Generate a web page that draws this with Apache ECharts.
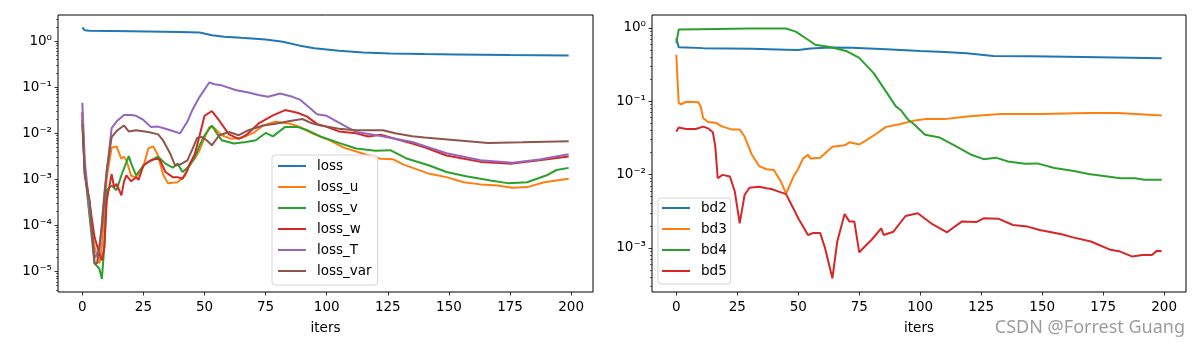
<!DOCTYPE html>
<html>
<head>
<meta charset="utf-8">
<script src="https://cdn.jsdelivr.net/npm/echarts@6.0.0/dist/echarts.min.js"></script>
<style>
html, body { margin: 0; padding: 0; background: #fff; }
#main { width: 1200px; height: 350px; }
</style>
</head>
<body>
<div id="main"></div>
<script>
// ---- data: [iter, value] ----
var iterTicks = [0, 25, 50, 75, 100, 125, 150, 175, 200];
var lossTicks = [1e-5, 1e-4, 1e-3, 1e-2, 1e-1, 1];
var bdTicks = [1e-3, 1e-2, 1e-1, 1];

var lossNames = ['loss', 'loss_u', 'loss_v', 'loss_w', 'loss_T', 'loss_var'];
var bdNames = ['bd2', 'bd3', 'bd4', 'bd5'];

var loss = [[0,2.0],[1,1.72],[3,1.68],[20,1.65],[40,1.58],[48,1.55],[53,1.35],[58,1.25],[65,1.18],[75,1.09],[82,0.97],[89,0.8],[95,0.7],[105,0.62],[115,0.57],[126,0.54],[140,0.525],[153,0.515],[175,0.5],[199,0.49]];
var lossU = [[0,2.7e-2],[1,1.6e-3],[3,1.8e-4],[5,3.4e-5],[7,1.5e-5],[8,3.4e-5],[10,1.1e-3],[12,4.9e-3],[14,5.2e-3],[16,2.8e-3],[17,3.1e-3],[18,2.6e-3],[20,1.2e-3],[22,1.1e-3],[25,1.9e-3],[27,4.7e-3],[29,5.2e-3],[31,3.3e-3],[33,1.3e-3],[35,8.3e-4],[39,8.7e-4],[42,1.2e-3],[44,2.2e-3],[46,2.8e-3],[48,4.3e-3],[50,8e-3],[52,1.38e-2],[54,1.3e-2],[57,9.1e-3],[61,7.6e-3],[65,7.9e-3],[70,1.02e-2],[74,1.48e-2],[79,1.78e-2],[85,1.62e-2],[89,1.38e-2],[94,1.0e-2],[101,7.1e-3],[107,4.9e-3],[115,3.6e-3],[122,2.8e-3],[127,2.75e-3],[131,2.14e-3],[142,1.32e-3],[149,1.12e-3],[156,8.7e-4],[163,7.8e-4],[170,7.4e-4],[176,6.6e-4],[182,6.8e-4],[189,8.7e-4],[199,1.03e-3]];
var lossV = [[0,2.0e-2],[1,1.6e-3],[3,1.5e-4],[5,1.5e-5],[7,1.15e-5],[8,6.9e-6],[9,3.4e-5],[10,5.8e-4],[12,7.4e-4],[14,5.8e-4],[16,1.23e-3],[19,3.2e-3],[20,2.2e-3],[22,1.23e-3],[25,2.0e-3],[28,2.6e-3],[31,3.1e-3],[34,2.2e-3],[37,1.8e-3],[39,2.2e-3],[41,1.45e-3],[44,2.0e-3],[46,3.0e-3],[48,5.5e-3],[50,9e-3],[53,1.48e-2],[55,1.0e-2],[57,7.1e-3],[62,6.0e-3],[67,6.5e-3],[71,7.1e-3],[75,1.02e-2],[78,8.6e-3],[83,1.38e-2],[88,1.38e-2],[92,1.17e-2],[98,8.3e-3],[105,6.2e-3],[112,4.7e-3],[120,4.2e-3],[126,4.3e-3],[133,2.8e-3],[142,2.0e-3],[149,1.45e-3],[157,1.17e-3],[167,9.5e-4],[174,8.3e-4],[182,8.7e-4],[190,1.23e-3],[194,1.6e-3],[199,1.78e-3]];
var lossW = [[0,2.9e-2],[1,1.3e-3],[3,3.0e-4],[5,5.6e-5],[7,2.4e-5],[8,1.75e-5],[9,3.4e-5],[10,3.5e-4],[12,1.3e-3],[13,6.8e-4],[14,8.0e-4],[16,4.5e-4],[17,8.7e-4],[18,1.23e-3],[20,9.1e-4],[22,1.12e-3],[23,9.8e-4],[25,2.0e-3],[27,2.4e-3],[29,2.7e-3],[31,2.8e-3],[32,2.5e-3],[34,1.45e-3],[37,1.12e-3],[39,1.12e-3],[41,1.03e-3],[43,1.6e-3],[44,2.2e-3],[46,3.5e-3],[48,9e-3],[50,2.4e-2],[53,3.05e-2],[56,1.9e-2],[60,9.5e-3],[64,7.6e-3],[67,9.1e-3],[72,1.62e-2],[78,2.45e-2],[83,3.2e-2],[88,2.8e-2],[92,2.3e-2],[96,1.6e-2],[100,1.38e-2],[105,1.1e-2],[112,1.0e-2],[117,8.5e-3],[122,9.3e-3],[135,6.0e-3],[140,5.0e-3],[149,3.3e-3],[163,2.4e-3],[176,2.2e-3],[187,2.6e-3],[199,3.15e-3]];
var lossT = [[0,4.6e-2],[1,2.6e-3],[3,2.1e-4],[5,2.0e-5],[7,2.8e-5],[9,4.9e-4],[12,1.3e-2],[14,1.8e-2],[17,2.5e-2],[20,2.5e-2],[22,2.4e-2],[25,1.95e-2],[28,1.38e-2],[31,1.4e-2],[33,1.3e-2],[37,1.12e-2],[40,1.0e-2],[43,1.8e-2],[45,3.2e-2],[48,6.2e-2],[52,0.128],[54,0.116],[57,0.11],[63,8.6e-2],[68,7.7e-2],[72,6.8e-2],[76,6.2e-2],[81,7.3e-2],[86,6.2e-2],[89,5.4e-2],[93,3.6e-2],[96,2.6e-2],[100,2.4e-2],[107,1.48e-2],[112,1.07e-2],[121,9.0e-3],[135,6.5e-3],[149,3.7e-3],[163,2.6e-3],[176,2.3e-3],[187,2.7e-3],[199,3.5e-3]];
var lossVar = [[0,1.55e-2],[1,1.23e-3],[3,3.5e-4],[5,1.5e-5],[6,1.5e-5],[8,9.1e-5],[10,1.6e-3],[12,8.3e-3],[14,1.12e-2],[17,1.48e-2],[19,1.1e-2],[22,1.17e-2],[27,1.07e-2],[31,9.5e-3],[33,7.1e-3],[36,3.6e-3],[38,2.0e-3],[40,2.1e-3],[43,2.6e-3],[45,4.5e-3],[47,8.0e-3],[49,8.3e-3],[51,7e-3],[53,5.5e-3],[56,9.1e-3],[60,1.07e-2],[64,9.1e-3],[68,1.17e-2],[74,1.48e-2],[79,1.62e-2],[85,1.85e-2],[90,2.05e-2],[94,1.65e-2],[97,1.5e-2],[101,1.38e-2],[105,1.26e-2],[112,1.17e-2],[123,1.17e-2],[128,1.0e-2],[135,8.6e-3],[140,8.1e-3],[153,7.1e-3],[166,6.2e-3],[180,6.4e-3],[199,6.7e-3]];

var bd2 = [[0,0.72],[1,0.545],[11,0.53],[31,0.52],[45,0.505],[50,0.50],[55,0.525],[63,0.54],[72,0.535],[86,0.51],[92,0.50],[100,0.485],[110,0.47],[119,0.45],[130,0.415],[145,0.41],[160,0.405],[180,0.395],[199,0.386]];
var bd3 = [[0,0.43],[1,0.094],[2,0.091],[4,0.098],[9,0.097],[10,0.085],[11,0.059],[13,0.052],[16,0.051],[18,0.047],[19,0.045],[23,0.041],[26,0.041],[28,0.033],[31,0.0186],[34,0.013],[37,0.0118],[40,0.0115],[43,0.0079],[45,0.0055],[46,0.0065],[48,0.0093],[50,0.012],[52,0.0166],[54,0.0186],[55,0.0165],[59,0.017],[61,0.0195],[64,0.024],[69,0.025],[71,0.0275],[75,0.0257],[78,0.0295],[82,0.036],[86,0.0447],[92,0.049],[97,0.054],[102,0.057],[110,0.057],[119,0.062],[133,0.067],[150,0.067],[169,0.069],[181,0.069],[199,0.064]];
var bd4 = [[0,0.62],[1,0.95],[10,0.96],[30,0.98],[45,0.98],[49,0.89],[54,0.69],[57,0.59],[63,0.55],[70,0.48],[75,0.39],[81,0.24],[86,0.135],[90,0.085],[92,0.076],[95,0.056],[97,0.05],[102,0.035],[108,0.032],[114,0.025],[121,0.0186],[126,0.0162],[131,0.017],[136,0.0151],[143,0.014],[148,0.0142],[155,0.0123],[163,0.0112],[169,0.0102],[176,0.0095],[182,0.0089],[188,0.0089],[192,0.0085],[199,0.0085]];
var bd5 = [[0,0.0385],[1,0.0437],[4,0.0418],[8,0.0418],[11,0.045],[13,0.0427],[15,0.0377],[16,0.024],[17,0.0089],[19,0.0099],[22,0.0094],[24,0.00585],[26,0.00216],[28,0.00526],[30,0.0066],[34,0.0068],[37,0.0065],[39,0.00635],[42,0.00585],[45,0.0054],[48,0.00345],[50,0.00253],[54,0.0015],[56,0.00159],[59,0.00159],[61,0.00099],[64,0.000385],[66,0.00122],[69,0.0029],[71,0.00228],[73,0.00228],[75,0.00087],[78,0.0011],[80,0.00128],[84,0.00185],[85,0.0015],[89,0.00166],[94,0.00272],[99,0.00297],[105,0.0021],[111,0.00163],[117,0.00228],[123,0.00225],[126,0.00253],[132,0.0025],[138,0.00205],[144,0.00195],[149,0.00175],[158,0.00153],[163,0.00138],[170,0.00122],[178,0.00094],[182,0.00089],[187,0.00076],[191,0.0008],[195,0.0008],[197,0.00091],[199,0.0009]];

var colors = ['#1f77b4', '#ff7f0e', '#2ca02c', '#d62728', '#9467bd', '#8c564b'];
var font = 'DejaVu Sans';
var fs = 13.5;

var sup = { '-': '\u207B', '0': '\u2070', '1': '\u00B9', '2': '\u00B2', '3': '\u00B3', '4': '\u2074', '5': '\u2075' };
function powLabel(v) {
    var e = Math.round(Math.log10(v));
    return '10' + String(e).split('').map(function (c) { return sup[c]; }).join('');
}
// minor ticks at 2..9 x 10^k, like matplotlib
function minorTicks(lo, hi) {
    var out = [];
    for (var e = Math.floor(Math.log10(lo)); e <= Math.ceil(Math.log10(hi)); e++) {
        for (var m = 2; m <= 9; m++) {
            var v = m * Math.pow(10, e);
            if (v >= lo && v <= hi) out.push(v);
        }
    }
    return out;
}

function xAxis(gi) {
    return {
        type: 'value', gridIndex: gi, min: -9.95, max: 208.95,
        name: 'iters', nameLocation: 'middle', nameGap: 29,
        nameTextStyle: { fontFamily: font, fontSize: fs, color: '#000' },
        axisLine: { show: false, onZero: false },
        splitLine: { show: false },
        axisTick: { customValues: iterTicks, length: 3.5, lineStyle: { color: '#000', width: 0.8 } },
        axisLabel: { customValues: iterTicks, margin: 8, color: '#000', fontFamily: font, fontSize: fs }
    };
}
function yAxis(gi, lo, hi, ticks) {
    return {
        type: 'log', logBase: 10, gridIndex: gi, min: lo, max: hi, position: 'left',
        axisLine: { show: false, onZero: false },
        splitLine: { show: false },
        axisTick: { customValues: ticks, length: 3.5, lineStyle: { color: '#000', width: 0.8 } },
        axisLabel: { customValues: ticks, margin: 6, color: '#000', fontFamily: font, fontSize: fs, formatter: powLabel }
    };
}
function yMinor(gi, lo, hi) {
    return {
        type: 'log', logBase: 10, gridIndex: gi, min: lo, max: hi, position: 'left',
        axisLine: { show: false, onZero: false },
        splitLine: { show: false },
        axisTick: { customValues: minorTicks(lo, hi), length: 2, lineStyle: { color: '#000', width: 0.6 } },
        axisLabel: { show: false }
    };
}
function line(name, data, gi, color) {
    return {
        name: name, type: 'line', data: data,
        xAxisIndex: gi, yAxisIndex: gi * 2,
        symbol: 'none', lineStyle: { width: 2, color: color }, itemStyle: { color: color },
        emphasis: { disabled: true }
    };
}
function legend(names, left, top, padding) {
    return {
        data: names, orient: 'vertical', left: left, top: top, padding: padding,
        icon: 'rect', itemGap: 7, itemWidth: 28, itemHeight: 2,
        backgroundColor: 'rgba(255,255,255,0.8)', borderColor: '#d4d4d4', borderWidth: 1, borderRadius: 3,
        textStyle: { fontFamily: font, fontSize: fs, color: '#000', lineHeight: 14, padding: [0, 0, 0, 6] }
    };
}

var chart = echarts.init(document.getElementById('main'));
chart.setOption({
    animation: false,
    grid: [
        { left: 58, top: 15, width: 535, height: 277, show: true, borderColor: '#000', borderWidth: 1 },
        { left: 652, top: 15, width: 534, height: 277, show: true, borderColor: '#000', borderWidth: 1 }
    ],
    xAxis: [xAxis(0), xAxis(1)],
    yAxis: [
        yAxis(0, 3.6e-6, 3.7, lossTicks), yMinor(0, 3.6e-6, 3.7),
        yAxis(1, 2.5e-4, 1.5, bdTicks), yMinor(1, 2.5e-4, 1.5)
    ],
    legend: [
        legend(lossNames, 272, 155, [4, 6, 7, 6]),
        legend(bdNames, 658, 198, [3, 4, 6, 4])
    ],
    graphic: [{
        type: 'text', right: 15, top: 319,
        style: { text: 'CSDN @Forrest Guang', fill: 'rgba(140,140,140,0.85)', font: '18px "Noto Sans"' }
    }],
    series: [
        line('loss', loss, 0, colors[0]),
        line('loss_u', lossU, 0, colors[1]),
        line('loss_v', lossV, 0, colors[2]),
        line('loss_w', lossW, 0, colors[3]),
        line('loss_T', lossT, 0, colors[4]),
        line('loss_var', lossVar, 0, colors[5]),
        line('bd2', bd2, 1, colors[0]),
        line('bd3', bd3, 1, colors[1]),
        line('bd4', bd4, 1, colors[2]),
        line('bd5', bd5, 1, colors[3])
    ]
});
</script>
</body>
</html>
